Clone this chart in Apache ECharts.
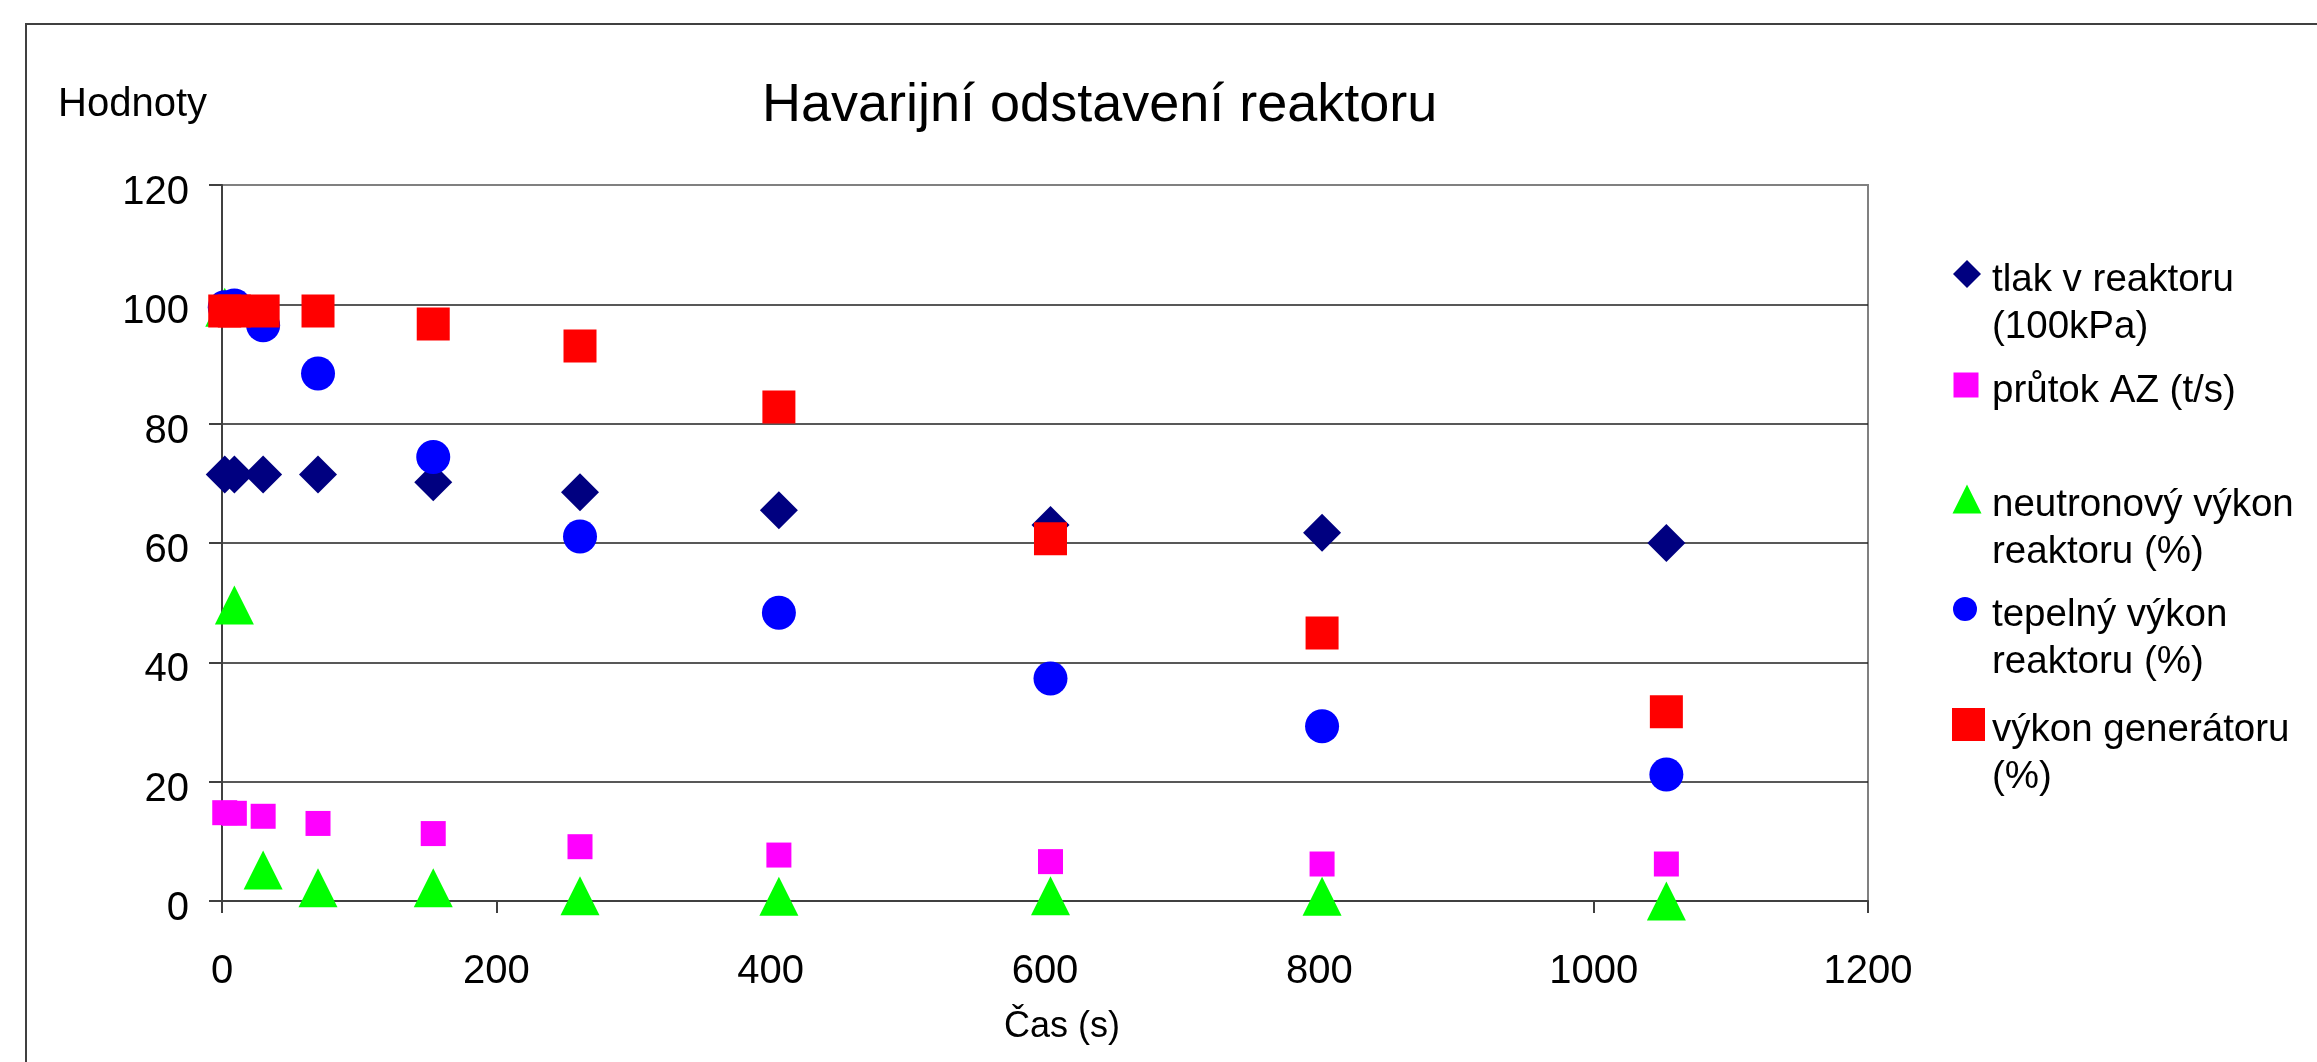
<!DOCTYPE html>
<html>
<head>
<meta charset="utf-8">
<script src="https://cdn.jsdelivr.net/npm/echarts@6/dist/echarts.min.js"></script>
<style>
html,body{margin:0;padding:0;background:#fff;}
#chart{width:2317px;height:1062px;}
</style>
</head>
<body>
<div id="chart"></div>
<script>
// ---- data ----
const timeS = [2, 9, 30, 70, 154, 261, 406, 604, 802, 1053];
const tlak = [71.5, 71.5, 71.5, 71.5, 70.2, 68.5, 65.5, 63.0, 61.7, 60.0];
const prutok = [14.8, 14.7, 14.2, 13.0, 11.3, 9.1, 7.7, 6.6, 6.2, 6.2];
const neutronovy = [99.5, 49.6, 5.2, 2.2, 2.2, 0.9, 0.8, 0.9, 0.8, 0.0];
const tepelny = [99.5, 99.8, 96.5, 88.4, 74.4, 61.1, 48.3, 37.3, 29.3, 21.2];
const generator = [98.9, 98.9, 98.9, 98.9, 96.7, 93.0, 82.8, 60.7, 44.9, 31.7];

const seriesNames = ['tlak v reaktoru (100kPa)', 'průtok AZ (t/s)', 'neutronový výkon reaktoru (%)', 'tepelný výkon reaktoru (%)', 'výkon generátoru (%)'];
const legendLines = [['tlak v reaktoru', '(100kPa)'], ['průtok AZ (t/s)'], ['neutronový výkon', 'reaktoru (%)'], ['tepelný výkon', 'reaktoru (%)'], ['výkon generátoru', '(%)']];
const titleText = 'Havarijní odstavení reaktoru';
const yAxisTitle = 'Hodnoty';
const xAxisTitle = 'Čas (s)';
const xTicks = {min: 0, max: 1200, step: 200};
const yTicks = {min: 0, max: 120, step: 20};

// ---- styles ----
const FONT = '"Liberation Sans", Arial, sans-serif';
const valuesList = [tlak, prutok, neutronovy, tepelny, generator];
const symbols = ['diamond', 'rect', 'triangle', 'circle', 'rect'];
const symbolSizes = [38, 25, 39, 34, 33];
const colors = ['#000080', '#FF00FF', '#00FF00', '#0000FF', '#FF0000'];
const legendIconSizes = [28, 25, 29, 24, 33];
const legendIconCx = [1967, 1966, 1967, 1965, 1968.5];
const legendIconCy = [274, 385, 499, 609, 724.5];
const legendTextX = 1992;

const chart = echarts.init(document.getElementById('chart'), null, {renderer: 'canvas'});

const series = seriesNames.map((nm, i) => ({
  type: 'scatter',
  name: nm,
  data: timeS.map((t, j) => [t, valuesList[i][j]]),
  symbol: symbols[i],
  symbolSize: symbolSizes[i],
  itemStyle: {color: colors[i], opacity: 1},
  clip: false,
  emphasis: {disabled: true},
  animation: false
}));

const legends = seriesNames.map((nm, i) => {
  const w = legendIconSizes[i];
  const left = legendIconCx[i] - w / 2;
  const padL = legendTextX - left - w - 5;
  const nLines = legendLines[i].length;
  const spacer = nLines > 1 ? 59 : 12;
  const blockH = spacer + nLines * 47;
  return {
    orient: 'vertical',
    left: left,
    top: legendIconCy[i] - blockH / 2,
    padding: 0,
    itemGap: 0,
    itemWidth: w,
    itemHeight: w,
    selectedMode: false,
    data: [nm],
    formatter: function () {
      return '{s| }\n' + legendLines[i].map(l => '{t|' + l + '}').join('\n');
    },
    textStyle: {
      fontSize: 38.5, lineHeight: 47, fontFamily: FONT, color: '#000',
      rich: {
        s: {fontSize: 2, lineHeight: spacer},
        t: {fontSize: 38.5, lineHeight: 47, fontFamily: FONT, color: '#000', padding: [0, 0, 0, padL]}
      }
    }
  };
});

const option = {
  backgroundColor: '#ffffff',
  animation: false,
  title: {
    text: titleText,
    left: 762,
    top: 79,
    padding: 0,
    textStyle: {fontSize: 54, fontWeight: 'normal', fontFamily: FONT, color: '#000'}
  },
  graphic: [{
    type: 'rect',
    z: -10,
    shape: {x: 26, y: 24, width: 2400, height: 1200},
    style: {fill: 'none', stroke: '#404040', lineWidth: 2}
  }],
  legend: legends,
  grid: {
    left: 222, top: 185, right: 449, bottom: 161,
    show: true, borderColor: '#808080', borderWidth: 2, backgroundColor: 'transparent'
  },
  xAxis: {
    type: 'value',
    min: xTicks.min, max: xTicks.max, interval: xTicks.step,
    name: xAxisTitle,
    nameLocation: 'middle',
    nameGap: 126,
    nameTextStyle: {fontSize: 36, fontFamily: FONT, color: '#000', verticalAlign: 'middle', padding: [0, 0, 0, 34]},
    axisLine: {show: true, onZero: false, lineStyle: {color: '#404040', width: 2}},
    axisTick: {show: true, length: 12, inside: false, lineStyle: {color: '#404040', width: 2}},
    axisLabel: {fontSize: 40, fontFamily: FONT, color: '#000', margin: 51, formatter: v => String(v)},
    splitLine: {show: false}
  },
  yAxis: {
    type: 'value',
    min: yTicks.min, max: yTicks.max, interval: yTicks.step,
    name: yAxisTitle,
    nameLocation: 'end',
    nameGap: 80,
    nameTextStyle: {fontSize: 40, fontFamily: FONT, color: '#000', align: 'right', verticalAlign: 'middle', padding: [0, 15, 0, 0]},
    axisLine: {show: true, onZero: false, lineStyle: {color: '#404040', width: 2}},
    axisTick: {show: true, length: 13, inside: false, lineStyle: {color: '#404040', width: 2}},
    axisLabel: {fontSize: 40, fontFamily: FONT, color: '#000', margin: 33, verticalAlign: 'top', lineHeight: 16, formatter: v => String(v)},
    splitLine: {show: true, showMinLine: false, showMaxLine: false, lineStyle: {color: '#202020', width: 1.5}}
  },
  tooltip: {show: false},
  series: series
};

chart.setOption(option);
</script>
</body>
</html>
